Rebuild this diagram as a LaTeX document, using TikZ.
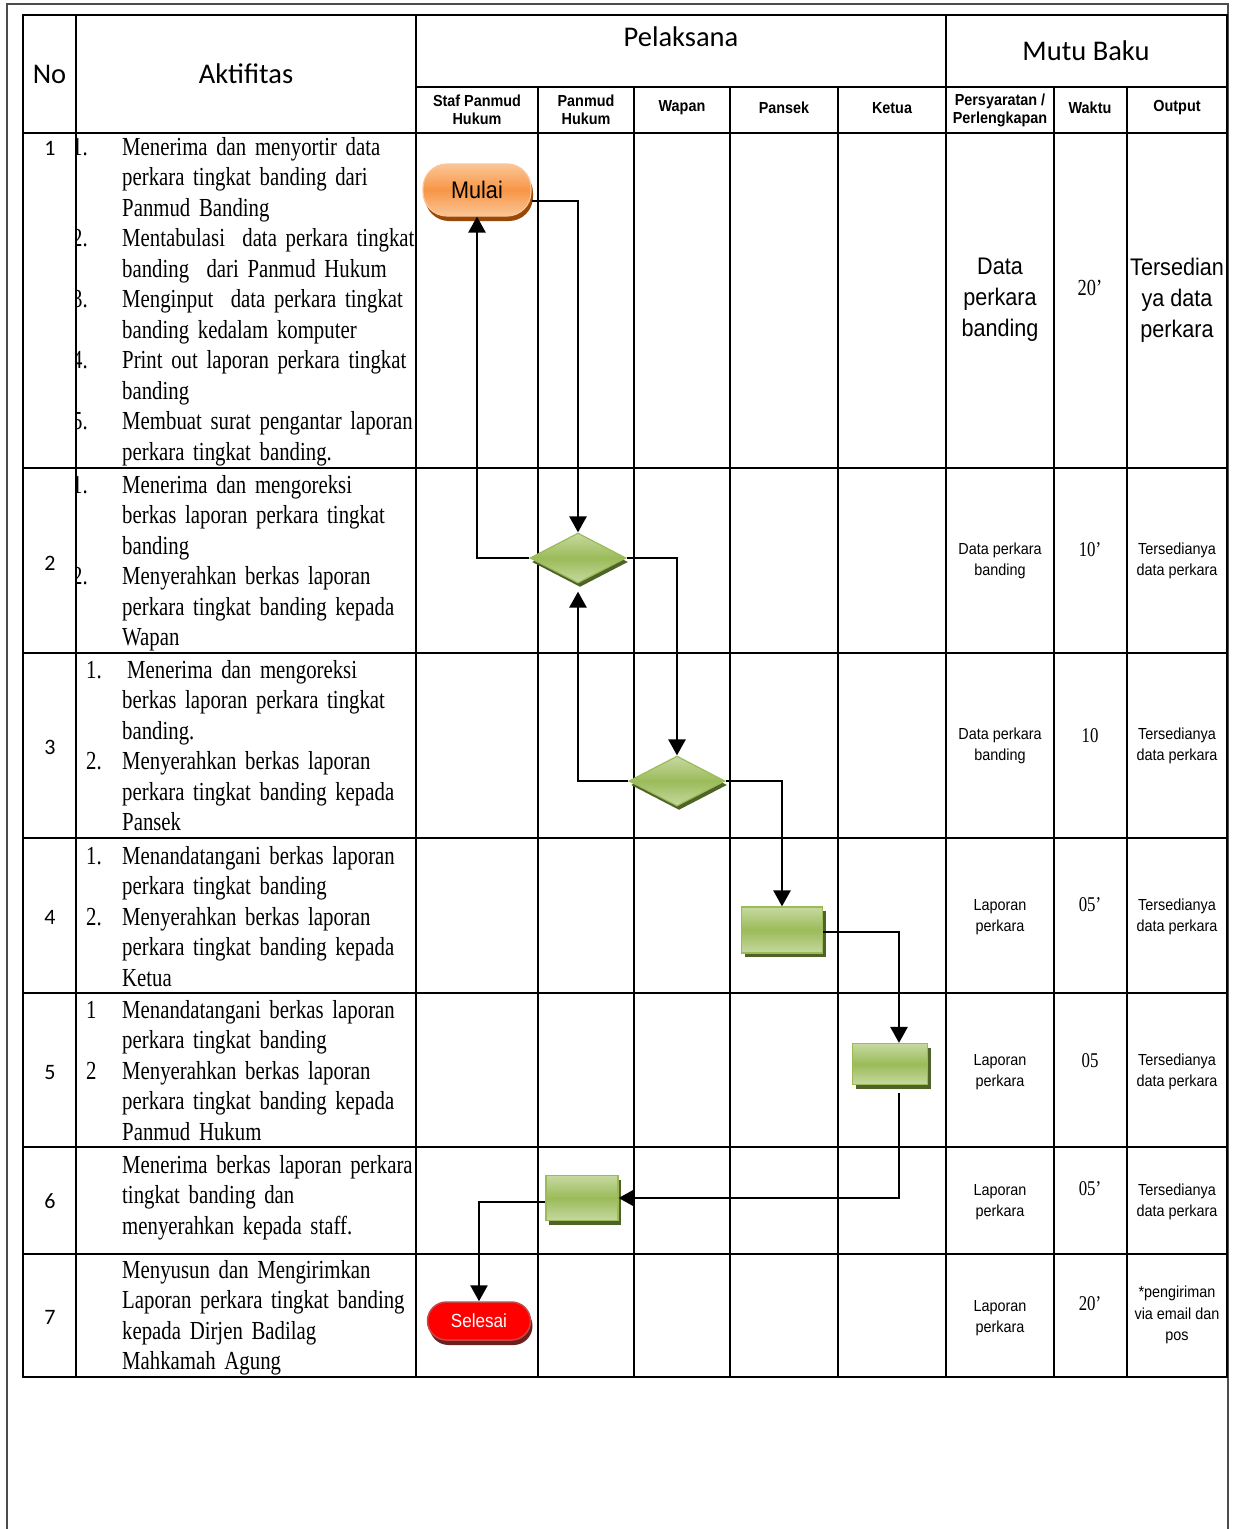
\documentclass[tikz,border=0pt]{standalone}
\usepackage{fontspec}
\usepackage{xcolor}
\usetikzlibrary{arrows.meta,shapes.geometric,shadows}

\newfontfamily\calfont{Carlito}
\newfontfamily\tnrfont[FakeStretch=0.8]{Liberation Serif}
\newfontfamily\arialfont[FakeStretch=0.9]{Liberation Sans}

\definecolor{olivemid}{RGB}{155,187,89}
\definecolor{olivelight}{RGB}{198,217,160}
\definecolor{olivedark}{RGB}{79,98,40}
\definecolor{orangemid}{RGB}{247,150,70}
\definecolor{orangelight}{RGB}{251,197,150}
\definecolor{orangedark}{RGB}{152,72,7}
\definecolor{redborder}{RGB}{200,70,70}
\definecolor{reddark}{RGB}{110,30,30}

\tikzset{
  tableline/.style={line width=2.6pt},
  flow/.style={line width=2.6pt, -{Triangle[length=16pt,width=17pt]}},
  headtext/.style={font=\calfont\fontsize{28.5}{32}\selectfont, inner sep=0pt},
  subhead/.style={font=\arialfont\bfseries\fontsize{16}{18}\selectfont, align=center, inner sep=0pt},
  rownum/.style={font=\calfont\fontsize{22}{24}\selectfont, inner sep=0pt},
  acttext/.style={font=\tnrfont\fontsize{26}{30.5}\selectfont, anchor=base west, inner sep=0pt, text width=340pt, align=left},
  itemnum/.style={font=\tnrfont\fontsize{26}{30.5}\selectfont, anchor=base west, inner sep=0pt},
  mutu/.style={font=\arialfont\fontsize{16}{20.5}\selectfont, align=center, inner sep=0pt},
  waktu/.style={font=\tnrfont\fontsize{21}{23}\selectfont, anchor=base, inner sep=0pt},
  process/.style={rectangle, draw=olivemid, line width=1.2pt, top color=olivelight, bottom color=olivelight, middle color=olivemid,
    drop shadow={shadow xshift=3pt, shadow yshift=-4pt, fill=olivedark, opacity=1}, inner sep=0pt},
  decision/.style={diamond, draw=olivemid, line width=1.2pt, top color=olivelight, bottom color=olivelight, middle color=olivemid,
    drop shadow={shadow xshift=2pt, shadow yshift=-4pt, fill=olivedark, opacity=1}, minimum width=96pt, minimum height=50pt, inner sep=0pt},
  startnode/.style={rectangle, rounded corners=24pt, draw=orangelight, line width=1.2pt, top color=orangelight, bottom color=orangelight, middle color=orangemid,
    drop shadow={shadow xshift=2pt, shadow yshift=-5pt, fill=orangedark, opacity=1}, minimum width=108pt, minimum height=52pt,
    font=\arialfont\fontsize{24}{26}\selectfont},
  endnode/.style={rectangle, rounded corners=19pt, draw=redborder, line width=1.5pt, fill=red,
    drop shadow={shadow xshift=2pt, shadow yshift=-5pt, fill=reddark, opacity=1}, minimum width=103pt, minimum height=38pt,
    text=white, font=\arialfont\fontsize{19}{21}\selectfont}
}

\begin{document}
\begin{tikzpicture}[x=1pt, y=-1pt]
    \useasboundingbox (0,0) rectangle (1232,1529);

    % Page frame
    \draw[line width=2.4pt, black!70] (7,1529) -- (7,4) -- (1228,4) -- (1228,1529);

    % Table
    \draw[tableline] (23,15) rectangle (1227,1377);
    \draw[tableline] (416,87) -- (1227,87);
    \draw[tableline] (23,133) -- (1227,133);
    \draw[tableline] (23,468) -- (1227,468);
    \draw[tableline] (23,653) -- (1227,653);
    \draw[tableline] (23,838) -- (1227,838);
    \draw[tableline] (23,993) -- (1227,993);
    \draw[tableline] (23,1147) -- (1227,1147);
    \draw[tableline] (23,1254) -- (1227,1254);
    \draw[tableline] (76,15) -- (76,1377);
    \draw[tableline] (416,15) -- (416,1377);
    \draw[tableline] (538,87) -- (538,1377);
    \draw[tableline] (634,87) -- (634,1377);
    \draw[tableline] (730,87) -- (730,1377);
    \draw[tableline] (838,87) -- (838,1377);
    \draw[tableline] (946,15) -- (946,1377);
    \draw[tableline] (1054,87) -- (1054,1377);
    \draw[tableline] (1127,87) -- (1127,1377);

    % Headers
    \node[headtext] (hno) at (49.5,74) {No};
    \node[headtext] (hakt) at (246,74) {Aktifitas};
    \node[headtext] (hpel) at (681,37) {Pelaksana};
    \node[headtext] (hmutu) at (1086,51) {Mutu Baku};
    \node[subhead] (hstaf) at (477,110) {Staf Panmud\\Hukum};
    \node[subhead] (hpanmud) at (586,110) {Panmud\\Hukum};
    \node[subhead] (hwapan) at (682,108) {Wapan};
    \node[subhead] (hpansek) at (784,108) {Pansek};
    \node[subhead] (hketua) at (892,108) {Ketua};
    \node[subhead] (hsyarat) at (1000,110) {Persyaratan /\\Perlengkapan};
    \node[subhead] (hwaktu) at (1090,108) {Waktu};
    \node[subhead] (houtput) at (1177,108) {Output};

    % Row numbers
    \node[rownum] (n1) at (50,148) {1};
    \node[rownum] (n2) at (50,563) {2};
    \node[rownum] (n3) at (50,747) {3};
    \node[rownum] (n4) at (50,917) {4};
    \node[rownum] (n5) at (50,1073) {5};
    \node[rownum] (n6) at (50,1201) {6};
    \node[rownum] (n7) at (50,1317) {7};

    % Activities
    \begin{scope}
        \clip (77,133) rectangle (416,653);
        \node[itemnum] (i11) at (72,155) {1.};
        \node[itemnum] (i12) at (72,246.5) {2.};
        \node[itemnum] (i13) at (72,307.5) {3.};
        \node[itemnum] (i14) at (72,368.5) {4.};
        \node[itemnum] (i15) at (72,429.5) {5.};
        \node[itemnum] (i21) at (72,493) {1.};
        \node[itemnum] (i22) at (72,584.5) {2.};
    \end{scope}
    \node[itemnum] (i31) at (86,678) {1.};
    \node[itemnum] (i32) at (86,769.5) {2.};
    \node[itemnum] (i41) at (86,864) {1.};
    \node[itemnum] (i42) at (86,925) {2.};
    \node[itemnum] (i51) at (86,1018) {1};
    \node[itemnum] (i52) at (86,1079) {2};

    \node[acttext] (a1) at (122,155) {Menerima dan menyortir data\\perkara tingkat banding dari\\Panmud Banding\\Mentabulasi~ data perkara tingkat\\banding~ dari Panmud Hukum\\Menginput~ data perkara tingkat\\banding kedalam komputer\\Print out laporan perkara tingkat\\banding\\Membuat surat pengantar laporan\\perkara tingkat banding.};
    \node[acttext] (a2) at (122,493) {Menerima dan mengoreksi\\berkas laporan perkara tingkat\\banding\\Menyerahkan berkas laporan\\perkara tingkat banding kepada\\Wapan};
    \node[acttext] (a3) at (122,678) {\hspace*{5pt}Menerima dan mengoreksi\\berkas laporan perkara tingkat\\banding.\\Menyerahkan berkas laporan\\perkara tingkat banding kepada\\Pansek};
    \node[acttext] (a4) at (122,864) {Menandatangani berkas laporan\\perkara tingkat banding\\Menyerahkan berkas laporan\\perkara tingkat banding kepada\\Ketua};
    \node[acttext] (a5) at (122,1018) {Menandatangani berkas laporan\\perkara tingkat banding\\Menyerahkan berkas laporan\\perkara tingkat banding kepada\\Panmud Hukum};
    \node[acttext] (a6) at (122,1173) {Menerima berkas laporan perkara\\tingkat banding dan\\menyerahkan kepada staff.};
    \node[acttext] (a7) at (122,1278) {Menyusun dan Mengirimkan\\Laporan perkara tingkat banding\\kepada Dirjen Badilag\\Mahkamah Agung};

    % Mutu baku
    \node[mutu, font=\arialfont\fontsize{24}{31}\selectfont] (p1) at (1000,300) {Data\\perkara\\banding};
    \node[waktu, font=\tnrfont\fontsize{23}{25}\selectfont] (w1) at (1090,295) {20’};
    \node[mutu, font=\arialfont\fontsize{24}{31}\selectfont] (o1) at (1177,300) {Tersedian\\ya data\\perkara};
    \node[mutu] (p2) at (1000,561) {Data perkara\\banding};
    \node[waktu] (w2) at (1090,556) {10’};
    \node[mutu] (o2) at (1177,561) {Tersedianya\\data perkara};
    \node[mutu] (p3) at (1000,746) {Data perkara\\banding};
    \node[waktu] (w3) at (1090,742) {10};
    \node[mutu] (o3) at (1177,746) {Tersedianya\\data perkara};
    \node[mutu] (p4) at (1000,917) {Laporan\\perkara};
    \node[waktu] (w4) at (1090,911) {05’};
    \node[mutu] (o4) at (1177,917) {Tersedianya\\data perkara};
    \node[mutu] (p5) at (1000,1072) {Laporan\\perkara};
    \node[waktu] (w5) at (1090,1067) {05};
    \node[mutu] (o5) at (1177,1072) {Tersedianya\\data perkara};
    \node[mutu] (p6) at (1000,1202) {Laporan\\perkara};
    \node[waktu] (w6) at (1090,1195) {05’};
    \node[mutu] (o6) at (1177,1202) {Tersedianya\\data perkara};
    \node[mutu] (p7) at (1000,1318) {Laporan\\perkara};
    \node[waktu] (w7) at (1090,1310) {20’};
    \node[mutu, font=\arialfont\fontsize{16}{21.5}\selectfont] (o7) at (1177,1315) {*pengiriman\\via email dan\\pos};

    % Flow shapes
    \node[startnode] (mulai) at (477,190) {Mulai};
    \node[decision] (d1) at (578,558) {};
    \node[decision] (d2) at (677,781) {};
    \node[process, minimum width=81pt, minimum height=46pt] (recta) at (782,930) {};
    \node[process, minimum width=75pt, minimum height=41pt] (rectb) at (890,1064) {};
    \node[process, minimum width=72pt, minimum height=45pt] (rectc) at (582,1198) {};
    \node[endnode] (selesai) at (479,1321) {Selesai};

    % Connectors
    \draw[flow] ([yshift=-11pt]mulai.east) -| (d1.north);
    \draw[flow] (d1.west) -| (mulai.south);
    \draw[flow] (d1.east) -| (d2.north);
    \draw[flow] (d2.west) -| ([yshift=-8pt]d1.south);
    \draw[flow] (d2.east) -| (recta.north);
    \draw[flow] ([yshift=-2pt]recta.east) -| ([xshift=9pt]rectb.north);
    \draw[flow] ([xshift=9pt,yshift=-8pt]rectb.south) |- (rectc.east);
    \draw[flow] ([yshift=-4pt]rectc.west) -| (selesai.north);
\end{tikzpicture}
\end{document}
